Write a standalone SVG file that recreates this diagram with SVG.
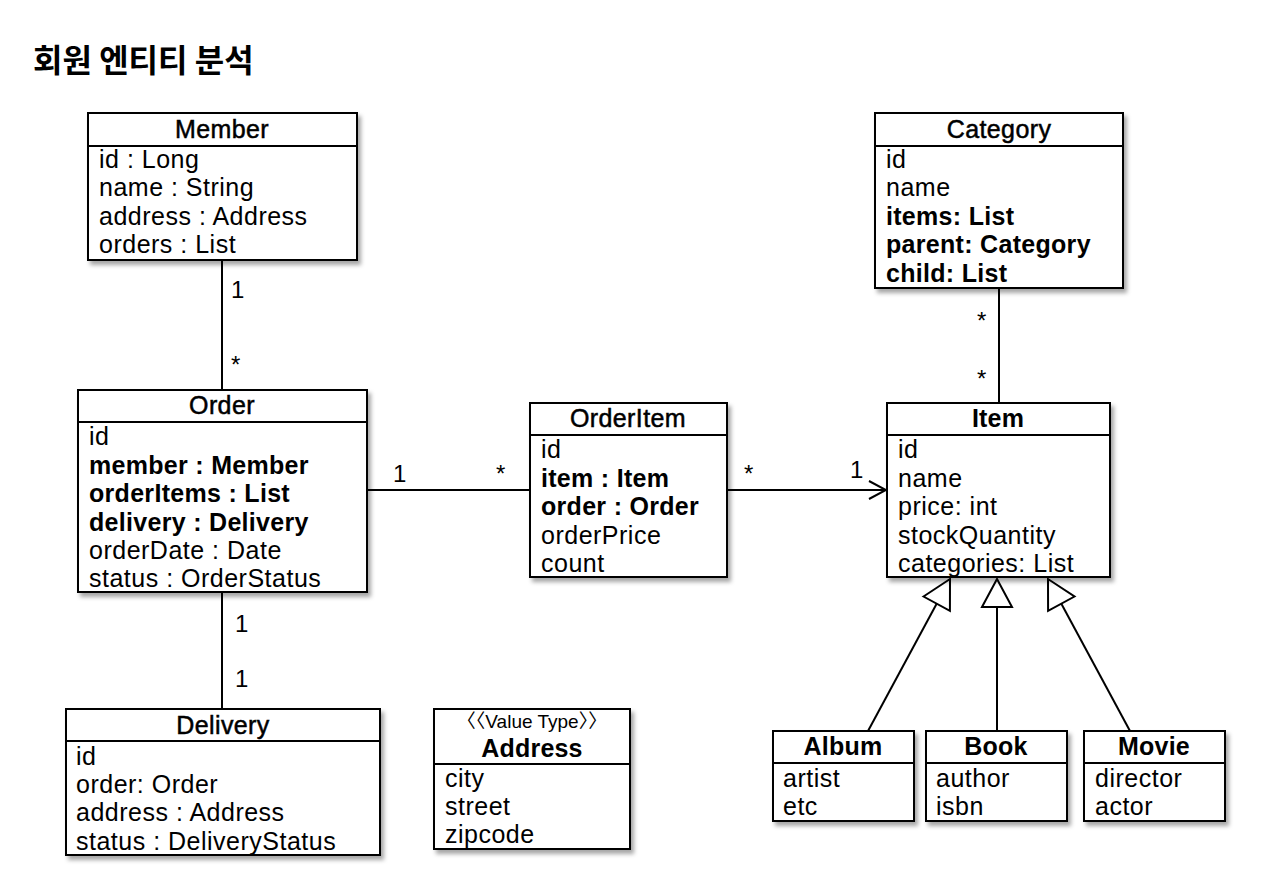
<svg xmlns="http://www.w3.org/2000/svg" width="1280" height="873" viewBox="0 0 1280 873">
<style>
text{font-family:"Liberation Sans",Arial,"Noto Sans CJK KR",sans-serif;fill:#000}
.box{fill:#fff;stroke:#000;stroke-width:2;filter:url(#sh)}
.sep{stroke:#000;stroke-width:2}
.h{font-size:25px;text-anchor:middle;letter-spacing:0.4px;stroke:#000;stroke-width:0.5px}
.hb{font-size:25px;text-anchor:middle;font-weight:bold;letter-spacing:0.2px}
.f{font-size:25px;letter-spacing:0.5px}
.b{font-size:25px;font-weight:bold;letter-spacing:0.3px}
.lbl{font-size:24px}
.st{font-size:19px;text-anchor:middle;font-family:"Liberation Sans","Noto Sans CJK KR",sans-serif}
.title{font-family:"Noto Sans CJK KR","Liberation Sans",sans-serif;font-size:32px;font-weight:bold}
.c{stroke:#000;stroke-width:2;fill:none}
</style>
<defs>
<filter id="sh" x="-10%" y="-10%" width="125%" height="130%">
<feDropShadow dx="3" dy="4" stdDeviation="2" flood-color="#000" flood-opacity="0.35"/>
</filter>
<marker id="open" viewBox="0 0 20 20" refX="18" refY="10" markerWidth="20" markerHeight="20" markerUnits="userSpaceOnUse" orient="auto">
<path d="M1,1 L18,10 L1,19" fill="none" stroke="#000" stroke-width="2"/>
</marker>
<marker id="tri" viewBox="0 0 32 34" refX="30" refY="17" markerWidth="32" markerHeight="34" markerUnits="userSpaceOnUse" orient="auto">
<path d="M2,2 L30,17 L2,32 Z" fill="#fff" stroke="#000" stroke-width="2"/>
</marker>
</defs>
<rect width="1280" height="873" fill="#fff"/>
<text class="title" x="33" y="72">회원 엔티티 분석</text>

<g id="connectors">
<line class="c" x1="222" y1="260" x2="222" y2="390"/>
<line class="c" x1="222" y1="592" x2="222" y2="709"/>
<line class="c" x1="367" y1="490" x2="530" y2="490"/>
<line class="c" x1="727" y1="490" x2="886" y2="490" marker-end="url(#open)"/>
<line class="c" x1="999" y1="288" x2="999" y2="403"/>
<line class="c" x1="868" y1="731" x2="950" y2="579" marker-end="url(#tri)"/>
<line class="c" x1="997" y1="731" x2="997" y2="579" marker-end="url(#tri)"/>
<line class="c" x1="1130" y1="731" x2="1048" y2="579" marker-end="url(#tri)"/>
<text class="lbl" x="231" y="298">1</text>
<text class="lbl" x="231" y="373">*</text>
<text class="lbl" x="235" y="632">1</text>
<text class="lbl" x="235" y="687">1</text>
<text class="lbl" x="393" y="482">1</text>
<text class="lbl" x="496" y="482">*</text>
<text class="lbl" x="744" y="482">*</text>
<text class="lbl" x="850" y="478">1</text>
<text class="lbl" x="977" y="329">*</text>
<text class="lbl" x="977" y="387">*</text>
</g>

<g id="Member">
<rect class="box" x="88" y="113" width="269" height="147"/>
<line class="sep" x1="88" y1="146" x2="357" y2="146"/>
<text class="h" x="222" y="138">Member</text>
<text class="f" x="99" y="168">id : Long</text>
<text class="f" x="99" y="196">name : String</text>
<text class="f" x="99" y="225">address : Address</text>
<text class="f" x="99" y="253">orders : List</text>
</g>

<g id="Order">
<rect class="box" x="78" y="390" width="289" height="202"/>
<line class="sep" x1="78" y1="422" x2="367" y2="422"/>
<text class="h" x="222" y="414">Order</text>
<text class="f" x="89" y="445">id</text>
<text class="b" x="89" y="474">member : Member</text>
<text class="b" x="89" y="502">orderItems : List</text>
<text class="b" x="89" y="531">delivery : Delivery</text>
<text class="f" x="89" y="559">orderDate : Date</text>
<text class="f" x="89" y="587">status : OrderStatus</text>
</g>

<g id="OrderItem">
<rect class="box" x="530" y="403" width="197" height="174"/>
<line class="sep" x1="530" y1="435" x2="727" y2="435"/>
<text class="h" x="628" y="427">OrderItem</text>
<text class="f" x="541" y="458">id</text>
<text class="b" x="541" y="487">item : Item</text>
<text class="b" x="541" y="515">order : Order</text>
<text class="f" x="541" y="544">orderPrice</text>
<text class="f" x="541" y="572">count</text>
</g>

<g id="Item">
<rect class="box" x="887" y="403" width="223" height="174"/>
<line class="sep" x1="887" y1="435" x2="1110" y2="435"/>
<text class="hb" x="998" y="427">Item</text>
<text class="f" x="898" y="458">id</text>
<text class="f" x="898" y="487">name</text>
<text class="f" x="898" y="515">price: int</text>
<text class="f" x="898" y="544">stockQuantity</text>
<text class="f" x="898" y="572">categories: List</text>
</g>

<g id="Category">
<rect class="box" x="875" y="113" width="248" height="175"/>
<line class="sep" x1="875" y1="146" x2="1123" y2="146"/>
<text class="h" x="999" y="138">Category</text>
<text class="f" x="886" y="168">id</text>
<text class="f" x="886" y="196">name</text>
<text class="b" x="886" y="225">items: List</text>
<text class="b" x="886" y="253">parent: Category</text>
<text class="b" x="886" y="282">child: List</text>
</g>

<g id="Delivery">
<rect class="box" x="66" y="709" width="314" height="146"/>
<line class="sep" x1="66" y1="741" x2="380" y2="741"/>
<text class="h" x="223" y="734">Delivery</text>
<text class="f" x="76" y="765">id</text>
<text class="f" x="76" y="793">order: Order</text>
<text class="f" x="76" y="821">address : Address</text>
<text class="f" x="76" y="850">status : DeliveryStatus</text>
</g>

<g id="Address">
<rect class="box" x="434" y="709" width="196" height="140"/>
<line class="sep" x1="434" y1="764" x2="630" y2="764"/>
<text class="st" x="532" y="728">〈〈Value Type〉〉</text>
<text class="hb" x="532" y="757">Address</text>
<text class="f" x="445" y="787">city</text>
<text class="f" x="445" y="815">street</text>
<text class="f" x="445" y="843">zipcode</text>
</g>

<g id="Album">
<rect class="box" x="773" y="731" width="141" height="90"/>
<line class="sep" x1="773" y1="763" x2="914" y2="763"/>
<text class="hb" x="843" y="755">Album</text>
<text class="f" x="783" y="787">artist</text>
<text class="f" x="783" y="815">etc</text>
</g>

<g id="Book">
<rect class="box" x="926" y="731" width="141" height="90"/>
<line class="sep" x1="926" y1="763" x2="1067" y2="763"/>
<text class="hb" x="996" y="755">Book</text>
<text class="f" x="936" y="787">author</text>
<text class="f" x="936" y="815">isbn</text>
</g>

<g id="Movie">
<rect class="box" x="1084" y="731" width="141" height="90"/>
<line class="sep" x1="1084" y1="763" x2="1225" y2="763"/>
<text class="hb" x="1154" y="755">Movie</text>
<text class="f" x="1095" y="787">director</text>
<text class="f" x="1095" y="815">actor</text>
</g>
</svg>
